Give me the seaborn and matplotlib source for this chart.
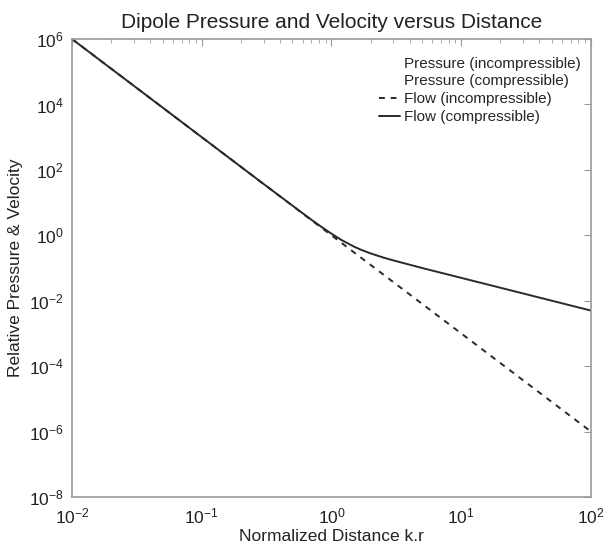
import numpy as np
import pandas as pd
import matplotlib
matplotlib.use("Agg")
import matplotlib.pyplot as plt
from matplotlib.lines import Line2D
import seaborn as sns

# Normalized distance k.r
kr = [0.01, 0.1, 0.3, 0.5, 0.7, 0.85, 1.0, 1.2, 1.5, 1.7, 2.0, 2.5, 3.0, 5.0,
      10.0, 20.0, 50.0, 100.0]
# Particle velocity, incompressible near field
flow_incompressible = [1e6, 1e3, 37.0, 8.0, 2.9, 1.63, 1.0, 0.579, 0.296, 0.2035,
                       0.125, 0.064, 0.037, 0.008, 1e-3, 1.25e-4, 8e-6, 1e-6]
# Particle velocity, compressible (near + far field)
flow_compressible = [1e6, 1e3, 37.0, 8.1, 3.0, 1.73, 1.12, 0.71, 0.446, 0.358,
                     0.28, 0.21, 0.171, 0.1, 0.05, 0.025, 0.01, 0.005]

legend_labels = ["Pressure (incompressible)", "Pressure (compressible)",
                 "Flow (incompressible)", "Flow (compressible)"]
x_ticks = [1e-2, 1e-1, 1e0, 1e1, 1e2]
y_ticks = [1e-8, 1e-6, 1e-4, 1e-2, 1e0, 1e2, 1e4, 1e6]

sns.set_style("white")
plt.rcParams["font.family"] = ["Liberation Sans", "DejaVu Sans"]
plt.rcParams["mathtext.fontset"] = "custom"
plt.rcParams["mathtext.rm"] = "Liberation Sans"
plt.rcParams["mathtext.it"] = "Liberation Sans"

df_inc = pd.DataFrame({"kr": kr, "v": flow_incompressible})
df_comp = pd.DataFrame({"kr": kr, "v": flow_compressible})

fig = plt.figure(figsize=(6.07, 5.52), dpi=100)
ax = fig.add_axes([0.1186, 0.0996, 0.855, 0.8297])

line_color = "#2a2a2a"
sns.lineplot(data=df_inc, x="kr", y="v", ax=ax, color=line_color,
             linewidth=1.4, linestyle=(0, (3, 3)))
sns.lineplot(data=df_comp, x="kr", y="v", ax=ax, color=line_color,
             linewidth=1.4)

ax.set_xscale("log")
ax.set_yscale("log")
ax.set_xlim(1e-2, 1e2)
ax.set_ylim(1e-8, 1e6)
ax.set_xticks(x_ticks)
ax.set_yticks(y_ticks)
ax.yaxis.set_minor_locator(matplotlib.ticker.NullLocator())

spine_color = "#9a9a9a"
for s in ax.spines.values():
    s.set_color(spine_color)
    s.set_linewidth(1.2)
ax.tick_params(which="both", direction="in", top=True, right=True,
               color=spine_color, labelsize=12.5, labelcolor="#222222")
ax.tick_params(which="major", length=5, pad=6)
ax.tick_params(axis="x", which="major", pad=7)
ax.tick_params(which="minor", length=3)

ax.set_title("Dipole Pressure and Velocity versus Distance", fontsize=15,
             color="#222222", pad=8)
ax.set_xlabel("Normalized Distance k.r", fontsize=12.5, color="#222222",
              labelpad=2)
ax.set_ylabel("Relative Pressure & Velocity", fontsize=12.5, color="#222222",
              labelpad=4)

handles = [
    Line2D([], [], color="none"),
    Line2D([], [], color="none"),
    Line2D([], [], color=line_color, linewidth=1.4, linestyle=(0, (3, 3))),
    Line2D([], [], color=line_color, linewidth=1.4),
]
ax.legend(handles, legend_labels, loc="upper right", frameon=False,
          fontsize=11, handlelength=1.4, handletextpad=0.2,
          labelspacing=0.25, borderaxespad=0.3,
          bbox_to_anchor=(1.0, 0.985))

fig.savefig("out.png", dpi=100, facecolor="white")
